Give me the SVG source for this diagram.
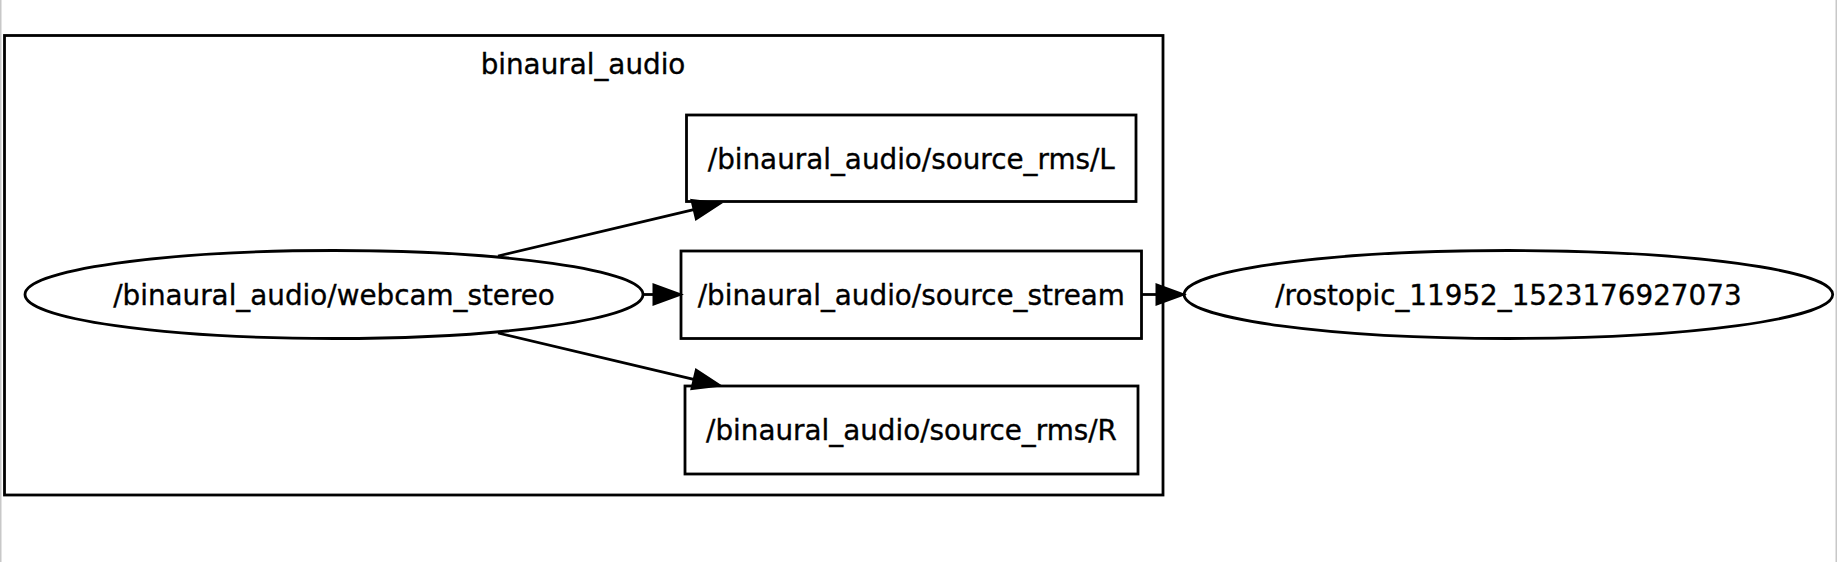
<svg xmlns="http://www.w3.org/2000/svg" width="1837" height="562" viewBox="0 0 1837 562">
<style>
  .shape { fill: none; stroke: #000; stroke-width: 2.8; }
  .edge { fill: none; stroke: #000; stroke-width: 2.8; }
  .label { font-family: "DejaVu Sans", sans-serif; font-size: 27.8px; fill: #000; stroke: #000; stroke-width: 0.35; text-anchor: middle; }
  .frame { stroke: #c8c8c8; stroke-width: 1.5; }
</style>
<defs>
  <marker id="arrow" markerUnits="userSpaceOnUse" viewBox="-2 -12 32 24" refX="0" refY="0" markerWidth="32" markerHeight="24" orient="auto">
    <path d="M0,-10 L27.5,0 L0,10 Z" fill="#000" stroke="#000" stroke-width="2"/>
  </marker>
</defs>
<rect x="0" y="0" width="1837" height="562" fill="#fff"/>
<line class="frame" x1="0.75" y1="0" x2="0.75" y2="562"/>
<line class="frame" x1="1836.25" y1="0" x2="1836.25" y2="562"/>

<g id="cluster_binaural_audio">
  <rect class="shape" x="4.5" y="35.5" width="1158.5" height="459.5"/>
  <text class="label" x="583" y="73.5">binaural_audio</text>
</g>

<g id="node_webcam_stereo">
  <ellipse class="shape" cx="334" cy="294.5" rx="309" ry="44"/>
  <text class="label" x="334" y="304.5">/binaural_audio/webcam_stereo</text>
</g>

<g id="node_source_rms_L">
  <rect class="shape" x="686.5" y="115" width="449.5" height="86.5"/>
  <text class="label" x="911.3" y="168.5">/binaural_audio/source_rms/L</text>
</g>

<g id="node_source_stream">
  <rect class="shape" x="681" y="251" width="460.5" height="87.5"/>
  <text class="label" x="911.3" y="304.5">/binaural_audio/source_stream</text>
</g>

<g id="node_source_rms_R">
  <rect class="shape" x="685" y="386" width="453" height="88"/>
  <text class="label" x="911.5" y="440">/binaural_audio/source_rms/R</text>
</g>

<g id="node_rostopic">
  <ellipse class="shape" cx="1508.4" cy="294.5" rx="324.3" ry="44"/>
  <text class="label" x="1508.4" y="304.5">/rostopic_11952_1523176927073</text>
</g>

<g id="connectors">
  <line class="edge" x1="498" y1="256" x2="693.7" y2="209.7" marker-end="url(#arrow)"/>
  <line class="edge" x1="643" y1="294.5" x2="653.5" y2="294.5" marker-end="url(#arrow)"/>
  <line class="edge" x1="498" y1="333" x2="693.7" y2="379.3" marker-end="url(#arrow)"/>
  <line class="edge" x1="1141.5" y1="294.5" x2="1156.5" y2="294.5" marker-end="url(#arrow)"/>
</g>
</svg>
